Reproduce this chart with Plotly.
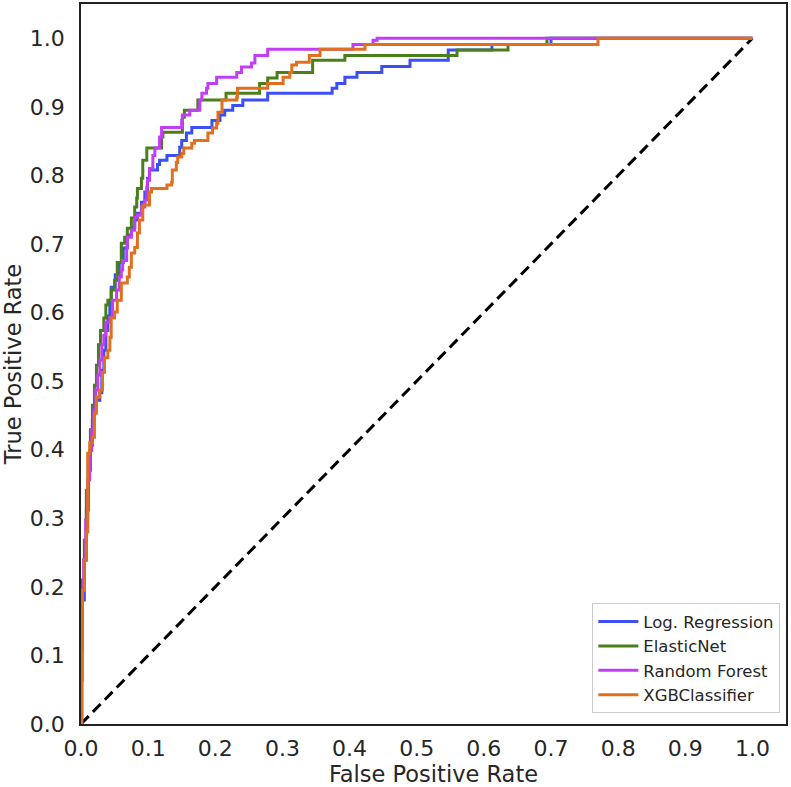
import plotly.graph_objects as go

# Log. Regression (step points: fpr where tpr rises, tpr after rise)
lr_fpr = [0, 0.001, 0.002, 0.005, 0.008, 0.011, 0.014, 0.017, 0.020, 0.023, 0.028, 0.031, 0.034, 0.037,
          0.040, 0.043, 0.045, 0.051, 0.057, 0.063, 0.069, 0.075, 0.080, 0.084, 0.090, 0.095, 0.099,
          0.102, 0.114, 0.117, 0.128, 0.147, 0.150, 0.157, 0.165, 0.195, 0.207, 0.214, 0.226, 0.241,
          0.278, 0.374, 0.381, 0.393, 0.411, 0.448, 0.490, 0.547, 0.612, 0.700, 1.0]
lr_tpr = [0, 0.108, 0.181, 0.239, 0.312, 0.370, 0.407, 0.443, 0.465, 0.472, 0.483, 0.516, 0.545, 0.574,
          0.595, 0.618, 0.637, 0.655, 0.673, 0.694, 0.713, 0.724, 0.735, 0.745, 0.761, 0.776, 0.796,
          0.808, 0.816, 0.822, 0.829, 0.841, 0.851, 0.862, 0.870, 0.880, 0.888, 0.895, 0.902, 0.910,
          0.920, 0.927, 0.934, 0.943, 0.950, 0.959, 0.968, 0.983, 0.991, 1.0, 1.0]

en_fpr = [0, 0.001, 0.002, 0.005, 0.008, 0.011, 0.014, 0.017, 0.020, 0.023, 0.026, 0.029, 0.034, 0.037,
          0.040, 0.045, 0.050, 0.054, 0.060, 0.065, 0.069, 0.075, 0.080, 0.083, 0.084, 0.090, 0.092,
          0.098, 0.120, 0.122, 0.151, 0.154, 0.174, 0.216, 0.266, 0.278, 0.292, 0.345, 0.393, 0.560,
          0.636, 0.694, 1.0]
en_tpr = [0, 0.137, 0.210, 0.268, 0.341, 0.392, 0.429, 0.465, 0.494, 0.523, 0.553, 0.574, 0.592, 0.611,
          0.618, 0.633, 0.647, 0.673, 0.701, 0.710, 0.723, 0.738, 0.754, 0.767, 0.781, 0.796, 0.822,
          0.840, 0.856, 0.863, 0.885, 0.895, 0.910, 0.920, 0.934, 0.942, 0.950, 0.968, 0.975, 0.983,
          0.991, 1.0, 1.0]

rf_fpr = [0, 0.001, 0.002, 0.004, 0.007, 0.010, 0.013, 0.016, 0.019, 0.022, 0.025, 0.028, 0.031, 0.034,
          0.037, 0.043, 0.047, 0.053, 0.057, 0.060, 0.062, 0.068, 0.069, 0.075, 0.080, 0.084, 0.090,
          0.095, 0.098, 0.099, 0.102, 0.107, 0.110, 0.117, 0.120, 0.150, 0.151, 0.162, 0.177, 0.180,
          0.187, 0.189, 0.202, 0.232, 0.239, 0.254, 0.259, 0.278, 0.405, 0.435, 0.441, 1.0]
rf_tpr = [0, 0.122, 0.195, 0.239, 0.297, 0.356, 0.399, 0.429, 0.458, 0.487, 0.509, 0.531, 0.553, 0.567,
          0.586, 0.593, 0.618, 0.633, 0.652, 0.662, 0.676, 0.695, 0.710, 0.720, 0.739, 0.742, 0.754,
          0.764, 0.783, 0.793, 0.810, 0.829, 0.840, 0.856, 0.870, 0.880, 0.888, 0.895, 0.910, 0.920,
          0.927, 0.934, 0.943, 0.950, 0.958, 0.964, 0.975, 0.984, 0.991, 0.997, 1.0, 1.0]

xgb_fpr = [0, 0.001, 0.002, 0.005, 0.008, 0.010, 0.013, 0.017, 0.020, 0.023, 0.028, 0.032, 0.035, 0.040,
           0.043, 0.045, 0.050, 0.054, 0.060, 0.069, 0.072, 0.075, 0.080, 0.084, 0.087, 0.092, 0.102,
           0.105, 0.128, 0.135, 0.136, 0.142, 0.144, 0.150, 0.153, 0.165, 0.169, 0.189, 0.196, 0.202,
           0.204, 0.210, 0.232, 0.233, 0.278, 0.301, 0.311, 0.314, 0.321, 0.340, 0.356, 0.423, 0.770, 1.0]
xgb_tpr = [0, 0.064, 0.195, 0.239, 0.280, 0.395, 0.410, 0.418, 0.453, 0.477, 0.487, 0.513, 0.534, 0.545,
           0.564, 0.592, 0.601, 0.618, 0.643, 0.652, 0.666, 0.687, 0.695, 0.716, 0.735, 0.757, 0.776,
           0.781, 0.786, 0.790, 0.808, 0.819, 0.827, 0.832, 0.840, 0.847, 0.851, 0.862, 0.869, 0.876,
           0.892, 0.910, 0.914, 0.927, 0.934, 0.943, 0.950, 0.961, 0.965, 0.975, 0.984, 0.991, 1.0, 1.0]

diag = [0, 1]
ticks = [0.0, 0.1, 0.2, 0.3, 0.4, 0.5, 0.6, 0.7, 0.8, 0.9, 1.0]
tick_text = ["0.0", "0.1", "0.2", "0.3", "0.4", "0.5", "0.6", "0.7", "0.8", "0.9", "1.0"]

series = [
    ("Log. Regression", lr_fpr, lr_tpr, "#3c4ff5"),
    ("ElasticNet", en_fpr, en_tpr, "#4a7f1a"),
    ("Random Forest", rf_fpr, rf_tpr, "#c23ef5"),
    ("XGBClassifier", xgb_fpr, xgb_tpr, "#e07020"),
]

fig = go.Figure()
fig.add_trace(go.Scatter(x=diag, y=diag, mode="lines", showlegend=False,
                         line=dict(color="black", width=3, dash="11px,6px")))
for name, xs, ys, col in series:
    fig.add_trace(go.Scatter(x=xs, y=ys, mode="lines", name=name,
                             line=dict(color=col, width=3, shape="hv")))

axis_common = dict(showgrid=False, zeroline=False, showline=True, linecolor="#222222", linewidth=1.5,
                   mirror=True, ticks="", tickvals=ticks, ticktext=tick_text, automargin=False,
                   tickfont=dict(family="DejaVu Sans", size=22, color="#262626"), range=[0, 1.05])

fig.update_layout(
    width=791, height=787,
    margin=dict(l=81, r=5, t=4, b=63),
    plot_bgcolor="white", paper_bgcolor="white",
    font=dict(family="DejaVu Sans", color="#262626"),
    xaxis=dict(**axis_common, ticklabelstandoff=4,
               title=dict(text="False Positive Rate", font=dict(size=22.5), standoff=4)),
    yaxis=dict(**axis_common, ticklabelstandoff=10,
               title=dict(text="True Positive Rate", font=dict(size=22.5), standoff=6)),
    legend=dict(x=0.992, y=0.015, xanchor="right", yanchor="bottom",
                bordercolor="#cccccc", borderwidth=1, bgcolor="rgba(255,255,255,0.9)",
                font=dict(family="DejaVu Sans", size=16.5, color="#262626"),
                tracegroupgap=0, itemwidth=40),
)

fig.write_html("out.html", config={"displayModeBar": False},
               post_script="document.body.style.margin='0';document.body.style.overflow='hidden';")
